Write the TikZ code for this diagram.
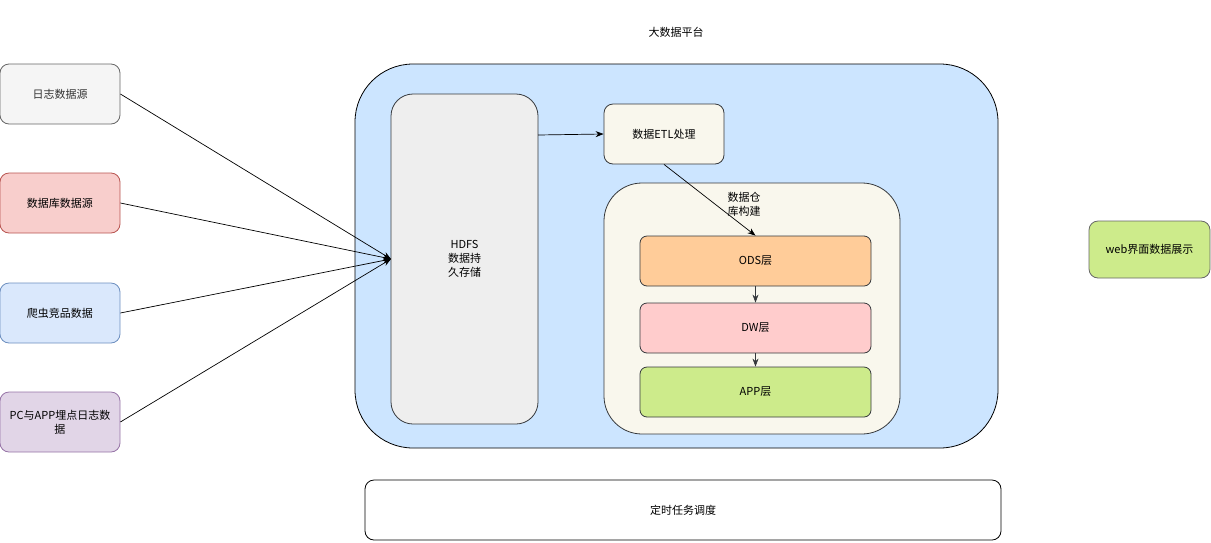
\documentclass[tikz,border=0pt]{standalone}
\usepackage{fontspec}
\setmainfont{Noto Sans CJK SC}
\usetikzlibrary{arrows.meta}
\definecolor{srcgrayF}{HTML}{F5F5F5}\definecolor{srcgrayD}{HTML}{666666}
\definecolor{srcredF}{HTML}{F8CECC}\definecolor{srcredD}{HTML}{B85450}
\definecolor{srcblueF}{HTML}{DAE8FC}\definecolor{srcblueD}{HTML}{6C8EBF}
\definecolor{srcpurF}{HTML}{E1D5E7}\definecolor{srcpurD}{HTML}{9673A6}
\definecolor{platF}{HTML}{CCE5FF}
\definecolor{darkD}{HTML}{36393D}
\definecolor{hdfsF}{HTML}{EEEEEE}
\definecolor{creamF}{HTML}{F9F7ED}
\definecolor{odsF}{HTML}{FFCC99}
\definecolor{dwF}{HTML}{FFCCCC}
\definecolor{appF}{HTML}{CDEB8B}
\definecolor{txtgray}{HTML}{333333}
\begin{document}
\begin{tikzpicture}[x=1pt,y=-1pt,
  box/.style={draw, rounded corners=#1, inner sep=0pt, align=center, font=\fontsize{11}{14}\selectfont, line width=0.8pt},
  box/.default=9pt,
  arr/.style={-{Stealth[length=8pt,width=6pt]}, line width=0.7pt},
]
\useasboundingbox (0,0) rectangle (1211,542);
% sources
\node[box, fill=srcgrayF, draw=srcgrayD, text=txtgray, minimum width=120, minimum height=60] (log) at (60,94) {日志数据源};
\node[box, fill=srcredF, draw=srcredD, minimum width=120, minimum height=60] (db) at (60,203) {数据库数据源};
\node[box, fill=srcblueF, draw=srcblueD, minimum width=120, minimum height=60] (crawl) at (60,313) {爬虫竞品数据};
\node[box, fill=srcpurF, draw=srcpurD, minimum width=120, minimum height=60] (pc) at (60,422) {PC与APP埋点日志数\\据};
% platform
\node[box=58pt, fill=platF, draw=black, minimum width=643, minimum height=384] (plat) at (676.5,256) {};
\node[font=\fontsize{11}{14}\selectfont] (title) at (676,32) {大数据平台};
\node[box=22pt, fill=hdfsF, draw=darkD, minimum width=147, minimum height=330] (hdfs) at (464.5,259) {HDFS\\数据持\\久存储};
\node[box, fill=creamF, draw=darkD, minimum width=120, minimum height=60] (etl) at (664,134) {数据ETL处理};
\node[box=38pt, fill=creamF, draw=darkD, minimum width=296, minimum height=251] (dwh) at (752,308.5) {};
\node[font=\fontsize{11}{14}\selectfont, align=center] (dwhlbl) at (744,204) {数据仓\\库构建};
\node[box=7pt, fill=odsF, draw=darkD, minimum width=231, minimum height=50] (ods) at (755.5,261) {ODS层};
\node[box=7pt, fill=dwF, draw=darkD, minimum width=231, minimum height=50] (dw) at (755.5,328) {DW层};
\node[box=7pt, fill=appF, draw=darkD, minimum width=231, minimum height=50] (app) at (755.5,392) {APP层};
\node[box, fill=appF, draw=srcgrayD, minimum width=121, minimum height=57] (web) at (1149.5,249.5) {web界面数据展示};
\node[box, fill=white, draw=black, minimum width=636, minimum height=60] (cron) at (683,510) {定时任务调度};
% connectors
\coordinate (hin) at (391,259);
\draw[arr] (log.east) -- (hin);
\draw[arr] (db.east) -- (hin);
\draw[arr] (crawl.east) -- (hin);
\draw[arr] (pc.east) -- (hin);
\draw[arr] (538,135) -- (etl.west);
\draw[arr] (etl.south) -- (ods.north);
\draw[arr, draw=darkD] (ods.south) -- (dw.north);
\draw[arr, draw=darkD] (dw.south) -- (app.north);
\end{tikzpicture}
\end{document}
